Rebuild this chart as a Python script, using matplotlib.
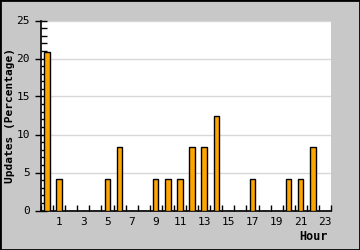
import matplotlib
matplotlib.use("Agg")
import matplotlib.pyplot as plt
import matplotlib.patches as patches
from matplotlib.ticker import MultipleLocator, FixedLocator

# hourly share of updates (percent)
hours = list(range(24))
updates = [20.83, 4.17, 0, 0, 0, 4.17, 8.33, 0, 0, 4.17, 4.17, 4.17,
           8.33, 8.33, 12.5, 0, 0, 4.17, 0, 0, 4.17, 4.17, 8.33, 0]
tick_hours = [1, 3, 5, 7, 9, 11, 13, 15, 17, 19, 21, 23]

font = "DejaVu Sans Mono"

fig = plt.figure(figsize=(3.6, 2.5), dpi=100, facecolor="#c8c8c8")
ax = fig.add_axes([41 / 360, 39.5 / 250, 290 / 360, 190 / 250])
ax.set_facecolor("white")

ax.bar(hours, updates, width=0.44, color="#ffa500", edgecolor="black",
       linewidth=1, zorder=3)

ax.set_xlim(-0.5, 23.5)
ax.set_ylim(0, 25)

ax.yaxis.set_major_locator(MultipleLocator(5))
ax.yaxis.set_minor_locator(MultipleLocator(1))
ax.grid(axis="y", which="major", color="#d8d8d8", linewidth=1, zorder=0)

ax.xaxis.set_major_locator(FixedLocator(tick_hours))
ax.xaxis.set_minor_locator(FixedLocator([h + 0.5 for h in range(-1, 24)]))
ax.tick_params(axis="x", which="major", length=0, pad=5)
ax.tick_params(axis="x", which="minor", direction="in", length=4, width=1)
ax.tick_params(axis="y", which="major", direction="inout", length=8, width=1, pad=4)
ax.tick_params(axis="y", which="minor", direction="in", length=4, width=1)

for lab in ax.get_xticklabels() + ax.get_yticklabels():
    lab.set_fontfamily(font)
    lab.set_fontsize(8)

for side in ["top", "right"]:
    ax.spines[side].set_visible(False)
for side in ["left", "bottom"]:
    ax.spines[side].set_linewidth(1.2)

ax.set_ylabel("Updates (Percentage)", fontfamily=font, fontsize=8,
              fontweight="bold")
ax.yaxis.set_label_coords(-26 / 290, 0.5)
fig.text(328 / 360, 14 / 250, "Hour", fontfamily=font, fontsize=8.5,
         fontweight="bold", ha="right", va="center")

fig.patches.append(patches.Rectangle((0, 0), 1, 1, transform=fig.transFigure,
                                     fill=False, edgecolor="black", linewidth=2))

fig.savefig("out.png", dpi=100, facecolor=fig.get_facecolor())
